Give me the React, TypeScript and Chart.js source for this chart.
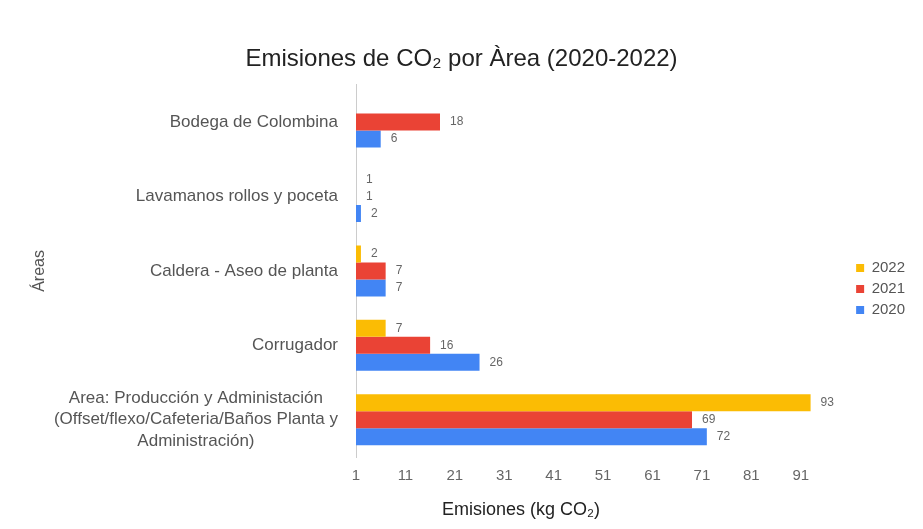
import React, { useEffect, useRef } from "react";
import { Chart, registerables } from "chart.js";

Chart.register(...registerables);

const categories: (string | string[])[] = [
  "Bodega de Colombina",
  "Lavamanos rollos y poceta",
  "Caldera - Aseo de planta",
  "Corrugador",
  [
    "Area: Producción y Administación",
    "(Offset/flexo/Cafeteria/Baños Planta y",
    "Administración)",
  ],
];

const seriesNames = ["2022", "2021", "2020"];
const values2022: (number | null)[] = [null, 1, 2, 7, 93];
const values2021: (number | null)[] = [18, 1, 7, 16, 69];
const values2020: (number | null)[] = [6, 2, 7, 26, 72];
const seriesColors = ["#FBBC04", "#EA4335", "#4285F4"];

const xMin = 1;
const xMax = 101;
const xStep = 10;

const titleText = "Emisiones de CO₂ por Àrea (2020-2022)";
const xTitleText = "Emisiones (kg CO₂)";
const yTitleText = "Áreas";

const FONT = "'Liberation Sans', Arial, sans-serif";

const valueLabelPlugin = {
  id: "valueLabels",
  afterDatasetsDraw(chart: any) {
    const ctx = chart.ctx;
    ctx.save();
    ctx.font = `12px ${FONT}`;
    ctx.fillStyle = "#666";
    ctx.textAlign = "left";
    ctx.textBaseline = "middle";
    chart.data.datasets.forEach((ds: any, di: number) => {
      const meta = chart.getDatasetMeta(di);
      meta.data.forEach((el: any, i: number) => {
        const v = ds.data[i];
        if (v === null || v === undefined) return;
        ctx.fillText(String(v), el.x + 10, el.y);
      });
    });
    ctx.restore();
  },
};

const customTextPlugin = {
  id: "customText",
  afterDraw(chart: any) {
    const ctx = chart.ctx;
    const area = chart.chartArea;
    const yScale = chart.scales.y;
    ctx.save();
    // category labels
    ctx.font = `17px ${FONT}`;
    ctx.fillStyle = "#555";
    ctx.textBaseline = "middle";
    const right = area.left - 18;
    const lineGap = 21.5;
    categories.forEach((lab, i) => {
      const y = yScale.getPixelForValue(i);
      if (Array.isArray(lab)) {
        const widest = Math.max(...lab.map((l) => ctx.measureText(l).width));
        const cx = right - widest / 2;
        ctx.textAlign = "center";
        lab.forEach((l, k) => {
          ctx.fillText(l, cx, y + (k - (lab.length - 1) / 2) * lineGap);
        });
      } else {
        ctx.textAlign = "right";
        ctx.fillText(lab, right, y);
      }
    });
    // x axis title
    ctx.font = `18px ${FONT}`;
    ctx.fillStyle = "#222";
    ctx.textAlign = "center";
    ctx.fillText(xTitleText, area.left + 165, area.bottom + 53);
    ctx.restore();
  },
};

export default function App() {
  const ref = useRef<HTMLCanvasElement | null>(null);

  useEffect(() => {
    if (!ref.current) return;
    const dataSeries = [values2022, values2021, values2020];
    const chart = new Chart(ref.current, {
      type: "bar",
      data: {
        labels: categories as any,
        datasets: seriesNames.map((name, i) => ({
          label: name,
          data: dataSeries[i] as any,
          backgroundColor: seriesColors[i],
          borderWidth: 0,
          categoryPercentage: 0.685,
          barPercentage: 1,
        })),
      },
      options: {
        indexAxis: "y",
        animation: false,
        responsive: false,
        layout: { padding: 0 },
        scales: {
          x: {
            type: "linear",
            min: xMin,
            max: xMax,
            grid: { display: false, drawTicks: false },
            border: { display: false },
            ticks: {
              stepSize: xStep,
              padding: 10,
              color: "#666",
              font: { family: FONT, size: 15 },
              callback: (v: any) => (v === xMax ? "" : String(v)),
            },
            afterFit: (scale: any) => {
              scale.height = 64;
            },
          },
          y: {
            grid: { display: false, drawTicks: false },
            border: { display: true, color: "#cccccc", width: 1 },
            ticks: { display: false },
            title: {
              display: true,
              text: yTitleText,
              color: "#555",
              font: { family: FONT, size: 16 },
              padding: { top: 22, bottom: 0 },
            },
            afterFit: (scale: any) => {
              scale.width = 348;
            },
          },
        },
        plugins: {
          title: {
            display: true,
            text: titleText,
            color: "#222",
            font: { family: FONT, size: 24, weight: "normal" },
            padding: { top: 37, bottom: 11 },
          },
          legend: {
            position: "right",
            labels: {
              boxWidth: 8,
              boxHeight: 8,
              padding: 6,
              color: "#555",
              font: { family: FONT, size: 15 },
            },
            title: {
              display: true,
              text: "",
              font: { size: 10 },
              padding: { top: 37, bottom: 0 },
            },
          },
          tooltip: { enabled: false },
        },
      },
      plugins: [valueLabelPlugin, customTextPlugin],
    });
    return () => chart.destroy();
  }, []);

  return (
    <div style={{ width: 907, height: 513 }}>
      <canvas ref={ref} width={907} height={513} />
    </div>
  );
}
